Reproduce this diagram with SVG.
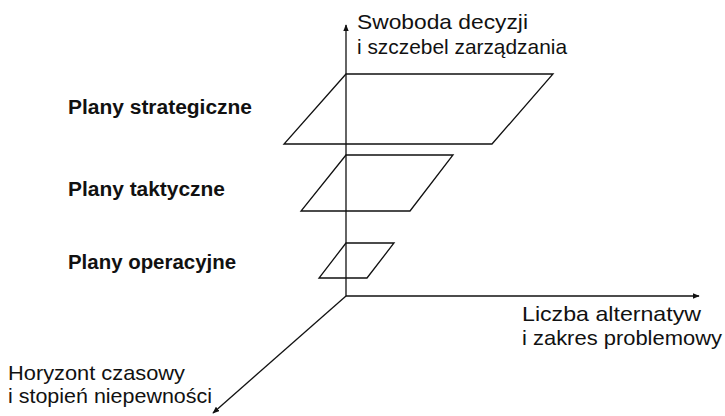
<svg xmlns="http://www.w3.org/2000/svg" width="725" height="416" viewBox="0 0 725 416">
  <style>
    .axis { stroke: #111; stroke-width: 1.3; fill: none; }
    .plane { stroke: #111; stroke-width: 1.3; fill: none; stroke-linejoin: miter; }
    .lbl { font-family: "Liberation Sans", Arial, sans-serif; font-size: 21px; fill: #111; }
    .lvl { font-family: "Liberation Sans", Arial, sans-serif; font-size: 20px; font-weight: bold; fill: #111; }
  </style>
  <defs>
    <marker id="tip" viewBox="0 0 10 8" refX="9" refY="4" markerWidth="7" markerHeight="5.6" orient="auto" markerUnits="userSpaceOnUse">
      <path d="M0,0 L10,4 L0,8 Z" fill="#111"/>
    </marker>
  </defs>
  <rect width="725" height="416" fill="#fff"/>

  <!-- axes -->
  <g id="connectors">
    <line class="axis" x1="346" y1="296" x2="346" y2="25" marker-end="url(#tip)"/>
    <line class="axis" x1="346" y1="296" x2="699" y2="296" marker-end="url(#tip)"/>
    <line class="axis" x1="346" y1="296" x2="213" y2="413" marker-end="url(#tip)"/>
  </g>

  <!-- planning levels -->
  <g id="strategic">
    <polygon class="plane" points="346,74 553,74 492,144 284,144"/>
    <text class="lvl" x="68" y="114" textLength="184" lengthAdjust="spacingAndGlyphs">Plany strategiczne</text>
  </g>
  <g id="tactical">
    <polygon class="plane" points="346,155 453,155 410,211 301,211"/>
    <text class="lvl" x="68" y="196" textLength="157" lengthAdjust="spacingAndGlyphs">Plany taktyczne</text>
  </g>
  <g id="operational">
    <polygon class="plane" points="346,243 394,243 367,278 319,278"/>
    <text class="lvl" x="68" y="269" textLength="168" lengthAdjust="spacingAndGlyphs">Plany operacyjne</text>
  </g>

  <!-- axis labels -->
  <g id="axis-y">
    <text class="lbl" x="357" y="29" textLength="171" lengthAdjust="spacingAndGlyphs">Swoboda decyzji</text>
    <text class="lbl" x="357" y="54" textLength="210" lengthAdjust="spacingAndGlyphs">i szczebel zarządzania</text>
  </g>
  <g id="axis-x">
    <text class="lbl" x="522" y="321" textLength="179" lengthAdjust="spacingAndGlyphs">Liczba alternatyw</text>
    <text class="lbl" x="522" y="345" textLength="200" lengthAdjust="spacingAndGlyphs">i zakres problemowy</text>
  </g>
  <g id="axis-z">
    <text class="lbl" x="8" y="380" textLength="177" lengthAdjust="spacingAndGlyphs">Horyzont czasowy</text>
    <text class="lbl" x="8" y="403" textLength="204" lengthAdjust="spacingAndGlyphs">i stopień niepewności</text>
  </g>
</svg>
